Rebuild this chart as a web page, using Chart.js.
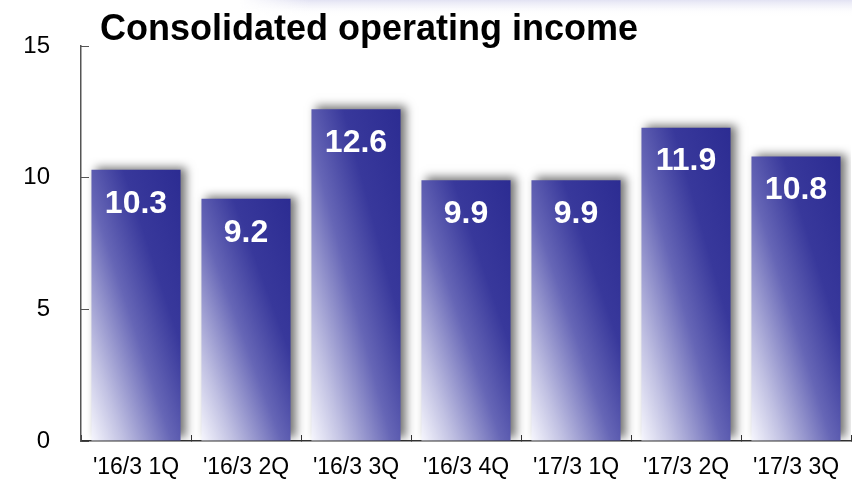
<!DOCTYPE html>
<html>
<head>
<meta charset="utf-8">
<script src="https://cdn.jsdelivr.net/npm/chart.js@4/dist/chart.umd.min.js"></script>
<style>
  html, body { margin: 0; padding: 0; background: #ffffff; }
  #wrap { width: 852px; height: 479px; }
</style>
</head>
<body>
<div id="wrap"><canvas id="c" width="852" height="479"></canvas></div>
<script>
// Quarterly consolidated operating income
const chartTitle = 'Consolidated operating income';
const quarters = ["'16/3 1Q", "'16/3 2Q", "'16/3 3Q", "'16/3 4Q", "'17/3 1Q", "'17/3 2Q", "'17/3 3Q"];
const operatingIncome = [10.3, 9.2, 12.6, 9.9, 9.9, 11.9, 10.8];
const yTicks = [0, 5, 10, 15];

const FONT = '"Liberation Sans", Arial, sans-serif';
const BAR_FRACTION = 0.9 * 0.9;

// Diagonal fill per bar: pale at bottom-left, deep navy at top-right,
// with colour bands running parallel to the bar's top-left/bottom-right diagonal.
function barFill(c) {
  const chart = c.chart;
  const xs = chart.scales.x, ys = chart.scales.y;
  if (c.type !== 'data' || !xs || !ys || !xs.width) return '#3a3a9c';
  const cx = xs.getPixelForValue(c.dataIndex);
  const w = xs.width / quarters.length * BAR_FRACTION;
  const left = cx - w / 2;
  const bottom = ys.getPixelForValue(0);
  const top = ys.getPixelForValue(c.raw);
  const h = Math.max(bottom - top, 1);
  const k = 2 * w * h / (w * w + h * h);
  const g = chart.ctx.createLinearGradient(left, bottom, left + h * k, bottom - w * k);
  g.addColorStop(0.0, '#f6f6fd');
  g.addColorStop(0.18, '#c0c0e2');
  g.addColorStop(0.45, '#6666b6');
  g.addColorStop(0.68, '#38389b');
  g.addColorStop(1.0, '#2c2c92');
  return g;
}

// Pale band across the top of the page and the heading text
const headingPlugin = {
  id: 'heading',
  beforeDraw(chart) {
    const ctx = chart.ctx;
    ctx.save();
    const v = ctx.createLinearGradient(0, 0, 0, 16);
    v.addColorStop(0, 'rgba(224,224,242,0.95)');
    v.addColorStop(1, 'rgba(255,255,255,0)');
    ctx.fillStyle = v;
    ctx.fillRect(240, 0, 612, 16);
    const hz = ctx.createLinearGradient(240, 0, 310, 0);
    hz.addColorStop(0, 'rgba(255,255,255,1)');
    hz.addColorStop(1, 'rgba(255,255,255,0)');
    ctx.fillStyle = hz;
    ctx.fillRect(240, 0, 70, 16);
    ctx.restore();
  },
  afterDraw(chart) {
    const ctx = chart.ctx;
    ctx.save();
    ctx.font = 'bold 36px ' + FONT;
    ctx.fillStyle = '#000000';
    ctx.textAlign = 'left';
    ctx.textBaseline = 'alphabetic';
    ctx.fillText(chartTitle, 100, 40);
    ctx.restore();
  }
};

// Soft drop shadow behind the bars
const barShadowPlugin = {
  id: 'barShadow',
  beforeDatasetDraw(chart) {
    const ctx = chart.ctx;
    ctx.save();
    ctx.shadowColor = 'rgba(0,0,0,0.55)';
    ctx.shadowBlur = 9;
    ctx.shadowOffsetX = 5;
    ctx.shadowOffsetY = -3;
  },
  afterDatasetDraw(chart) {
    chart.ctx.restore();
  }
};

// White value printed inside the top of each bar
const valueLabelPlugin = {
  id: 'valueLabels',
  afterDatasetsDraw(chart) {
    const ctx = chart.ctx;
    const meta = chart.getDatasetMeta(0);
    ctx.save();
    ctx.font = 'bold 32px ' + FONT;
    ctx.fillStyle = '#ffffff';
    ctx.textAlign = 'center';
    ctx.textBaseline = 'middle';
    meta.data.forEach((bar, i) => {
      const v = chart.data.datasets[0].data[i];
      ctx.fillText(v.toFixed(1), bar.x, bar.y + 34);
    });
    ctx.restore();
  }
};

new Chart(document.getElementById('c'), {
  type: 'bar',
  data: {
    labels: quarters,
    datasets: [{
      data: operatingIncome,
      backgroundColor: barFill,
      borderWidth: 0,
      categoryPercentage: 0.9,
      barPercentage: 0.9
    }]
  },
  options: {
    responsive: false,
    animation: false,
    events: [],
    layout: { padding: { top: 46, left: 0, right: 1, bottom: 0 } },
    plugins: {
      legend: { display: false },
      tooltip: { enabled: false },
      title: { display: false }
    },
    scales: {
      x: {
        z: 1,
        offset: true,
        grid: {
          offset: true,
          drawOnChartArea: false,
          drawTicks: true,
          tickLength: -6,
          color: '#333333',
          lineWidth: 1
        },
        border: { display: true, color: '#333333', width: 1.5 },
        ticks: {
          color: '#000000',
          font: { family: FONT, size: 23 },
          padding: 19,
          maxRotation: 0,
          autoSkip: false
        },
        afterFit(s) {
          s.height = 38;
          s.paddingLeft = 0; s.paddingRight = 0;
        }
      },
      y: {
        min: 0,
        max: 15,
        afterBuildTicks(s) { s.ticks = yTicks.map(v => ({ value: v })); },
        grid: {
          drawOnChartArea: false,
          drawTicks: true,
          tickLength: -8,
          color: '#555555',
          lineWidth: 1
        },
        border: { display: true, color: '#555555', width: 1.5 },
        ticks: {
          color: '#000000',
          font: { family: FONT, size: 24 },
          padding: 39
        },
        afterFit(s) {
          s.width = 81;
          s.paddingTop = 0; s.paddingBottom = 0;
        }
      }
    }
  },
  plugins: [headingPlugin, barShadowPlugin, valueLabelPlugin]
});
</script>
</body>
</html>
